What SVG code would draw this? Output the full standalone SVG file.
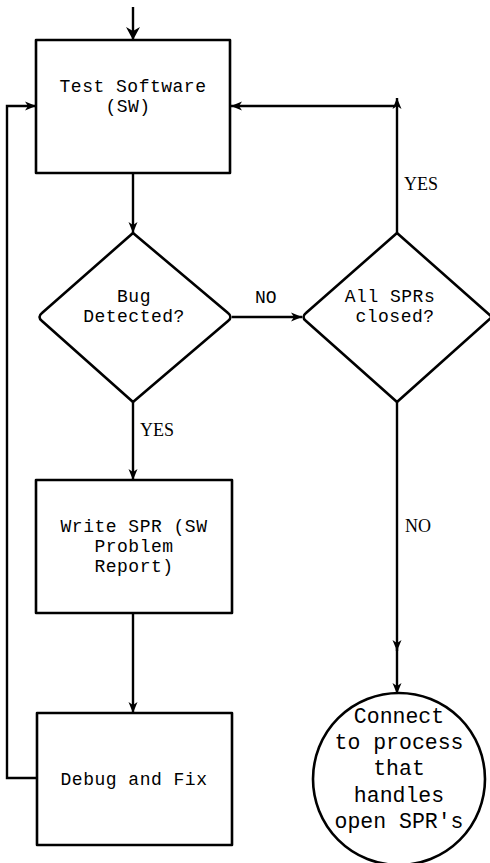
<svg xmlns="http://www.w3.org/2000/svg" width="490" height="863" viewBox="0 0 490 863">
<style>
.shape{fill:#fff;stroke:#000;stroke-width:2.6;stroke-linejoin:round}
.conn{fill:none;stroke:#000;stroke-width:2.4}
.t{font-family:"Liberation Mono","DejaVu Sans Mono",monospace;font-size:18px;letter-spacing:0.5px;fill:#000;text-anchor:middle}
.c{font-family:"Liberation Mono","DejaVu Sans Mono",monospace;font-size:21.5px;fill:#000;text-anchor:middle}
.lbl{font-family:"Liberation Serif","Times New Roman",serif;font-size:18px;fill:#000}
.lblm{font-family:"Liberation Mono","DejaVu Sans Mono",monospace;font-size:18px;fill:#000}
</style>
<defs>
<marker id="ah" markerUnits="userSpaceOnUse" markerWidth="12" markerHeight="10" refX="11" refY="5" orient="auto">
<path d="M0,0.5 L11,5 L0,9.5 L3,5 z" fill="#000"/>
</marker>
<marker id="ahBig" markerUnits="userSpaceOnUse" markerWidth="14" markerHeight="14" refX="13" refY="7" orient="auto">
<path d="M0,0 L13,7 L0,14 L4,7 z" fill="#000"/>
</marker>
</defs>
<rect width="490" height="863" fill="#fff"/>
<g id="connectors">
<path class="conn" d="M133,7 V40" marker-end="url(#ahBig)"/>
<path class="conn" d="M133,173 V233" marker-end="url(#ah)"/>
<path class="conn" d="M232,317 H302" marker-end="url(#ah)"/>
<path class="conn" d="M397,233 V98" marker-end="url(#ah)"/>
<path class="conn" d="M395,106 H231" marker-end="url(#ah)"/>
<path class="conn" d="M133,402 V480" marker-end="url(#ah)"/>
<path class="conn" d="M133,613 V713" marker-end="url(#ah)"/>
<path class="conn" d="M37,778 H7 V106 H36" marker-end="url(#ah)"/>
<path class="conn" d="M397,402 V651" marker-end="url(#ah)"/>
<path class="conn" d="M397,648 V694" marker-end="url(#ah)"/>
<text class="lbl" x="404" y="190">YES</text>
<text class="lblm" x="255" y="303">NO</text>
<text class="lbl" x="140" y="436">YES</text>
<text class="lbl" x="405" y="532">NO</text>
</g>
<g id="test-software">
<rect class="shape" x="36" y="40" width="194" height="133"/>
<text class="t" x="133" y="92">Test Software</text>
<text class="t" x="128" y="112">(SW)</text>
</g>
<g id="bug-detected">
<path class="shape" d="M133,233 L228,313 Q233,317 228,321 L133,402 L42,321 Q37,317 42,313 Z"/>
<text class="t" x="134" y="302">Bug</text>
<text class="t" x="134" y="322">Detected?</text>
</g>
<g id="all-sprs-closed">
<path class="shape" d="M397,233 L492,317 L397,402 L306,321 Q301,317 306,313 Z"/>
<text class="t" x="390" y="302">All SPRs</text>
<text class="t" x="395" y="322">closed?</text>
</g>
<g id="write-spr">
<rect class="shape" x="36" y="480" width="196" height="133"/>
<text class="t" x="134" y="532">Write SPR (SW</text>
<text class="t" x="134" y="552">Problem</text>
<text class="t" x="134" y="572">Report)</text>
</g>
<g id="debug-fix">
<rect class="shape" x="37" y="713" width="195" height="132"/>
<text class="t" x="134" y="785">Debug and Fix</text>
</g>
<g id="connect-process">
<circle class="shape" cx="399" cy="779" r="86"/>
<text class="c" x="399" y="723">Connect</text>
<text class="c" x="399" y="749">to process</text>
<text class="c" x="399" y="775">that</text>
<text class="c" x="399" y="802">handles</text>
<text class="c" x="399" y="828">open SPR's</text>
</g>
</svg>
